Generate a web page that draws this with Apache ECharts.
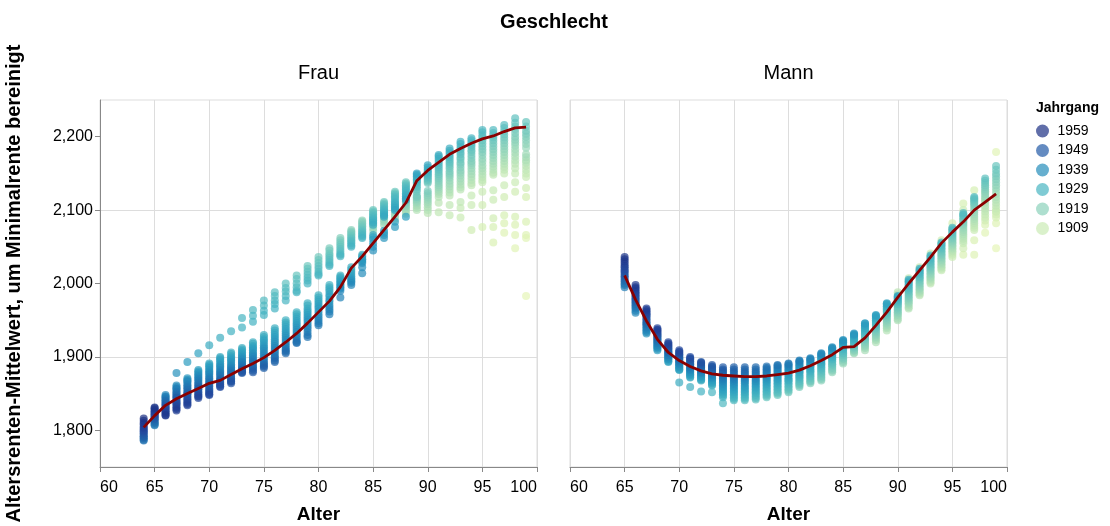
<!DOCTYPE html>
<html>
<head>
<meta charset="utf-8">
<script src="https://cdn.jsdelivr.net/npm/echarts@6/dist/echarts.min.js"></script>
<style>
  html, body { margin: 0; padding: 0; background: #fff; }
  #chart { width: 1110px; height: 526px; }
</style>
</head>
<body>
<div id="chart"></div>
<script>
// Farbskala der Jahrgänge 1900 - 1959; letzte Beobachtung 2023:
// die Spalte für Alter a endet beim Jahrgang 2023 - a (höchstens 1959)
const farbeVon = 1900
const farbeBis = 1959
const letztesJahr = 2023

// Werte je Alter, vom ältesten zum jüngsten Jahrgang
const alterFrau = [64, 65, 66, 67, 68, 69, 70, 71, 72, 73, 74, 75, 76, 77, 78, 79, 80, 81,
  82, 83, 84, 85, 86, 87, 88, 89, 90, 91, 92, 93, 94, 95, 96, 97, 98, 99]
const frauWerte = [
  [1786, 1787, 1789, 1791, 1792, 1794, 1796, 1798, 1799, 1801, 1803, 1805, 1808, 1810, 1813, 1816],
  [1807, 1808, 1810, 1811, 1813, 1815, 1816, 1817, 1819, 1820, 1822, 1823, 1825, 1826, 1828, 1830, 1831],
  [1848, 1846, 1845, 1843, 1841, 1840, 1838, 1836, 1835, 1833, 1831, 1830, 1828, 1826, 1825, 1823, 1821, 1820],
  [1878, 1861, 1859, 1857, 1856, 1853, 1851, 1849, 1847, 1845, 1844, 1841, 1839, 1837, 1836, 1833, 1831, 1829, 1827],
  [1893, 1871, 1869, 1867, 1866, 1863, 1861, 1859, 1857, 1855, 1852, 1850, 1849, 1846, 1844, 1842, 1840, 1838, 1836, 1834],
  [1905, 1882, 1880, 1878, 1876, 1874, 1872, 1870, 1868, 1865, 1863, 1861, 1859, 1857, 1856, 1853, 1851, 1849, 1847, 1846, 1844],
  [1916, 1891, 1889, 1887, 1885, 1882, 1880, 1878, 1876, 1873, 1871, 1869, 1866, 1864, 1862, 1860, 1857, 1855, 1853, 1851, 1849, 1848],
  [1926, 1900, 1898, 1896, 1894, 1891, 1889, 1887, 1885, 1882, 1880, 1878, 1876, 1874, 1871, 1869, 1867, 1865, 1863, 1862, 1860, 1859],
  [1935, 1906, 1904, 1901, 1899, 1897, 1895, 1893, 1890, 1888, 1886, 1884, 1882, 1880, 1878, 1876, 1873, 1871, 1869, 1867, 1866, 1864],
  [1953, 1940, 1912, 1910, 1908, 1906, 1904, 1902, 1900, 1898, 1896, 1894, 1893, 1891, 1889, 1887, 1885, 1883, 1882, 1880, 1879, 1878],
  [1964, 1956, 1948, 1920, 1918, 1915, 1913, 1911, 1909, 1906, 1904, 1902, 1900, 1897, 1895, 1893, 1891, 1888, 1886, 1884, 1881, 1879],
  [1977, 1970, 1963, 1957, 1930, 1927, 1924, 1922, 1919, 1916, 1913, 1911, 1908, 1905, 1902, 1899, 1896, 1893, 1891, 1889, 1887, 1885],
  [1988, 1983, 1977, 1972, 1966, 1939, 1936, 1933, 1930, 1927, 1924, 1921, 1918, 1915, 1912, 1909, 1906, 1903, 1900, 1898, 1895, 1893],
  [2000, 1994, 1989, 1983, 1977, 1950, 1947, 1944, 1941, 1938, 1935, 1932, 1929, 1926, 1923, 1920, 1917, 1914, 1911, 1909, 1907, 1905],
  [2011, 2006, 2000, 1995, 1990, 1988, 1961, 1958, 1955, 1952, 1949, 1946, 1943, 1940, 1937, 1934, 1931, 1928, 1925, 1922, 1920, 1919],
  [2024, 2020, 2016, 2012, 2008, 2004, 2000, 1973, 1970, 1966, 1963, 1960, 1957, 1954, 1951, 1948, 1944, 1941, 1938, 1934, 1930, 1927],
  [2036, 2032, 2028, 2024, 2020, 2016, 2013, 2011, 1984, 1981, 1978, 1975, 1972, 1969, 1966, 1962, 1958, 1955, 1952, 1949, 1946, 1943],
  [2048, 2045, 2041, 2038, 2035, 2032, 2029, 2026, 2024, 1998, 1995, 1992, 1989, 1985, 1982, 1978, 1975, 1971, 1968, 1965, 1962, 1958],
  [2062, 2059, 2056, 2053, 2050, 2047, 2044, 2041, 2039, 2037, 2011, 2009, 2007, 2005, 2003, 2001, 1999, 1997, 1995, 1993, 1990, 1981],
  [2073, 2071, 2069, 2067, 2065, 2063, 2061, 2059, 2057, 2055, 2052, 2050, 2022, 2019, 2016, 2013, 2010, 2007, 2005, 2003, 2001, 1998],
  [2086, 2084, 2082, 2080, 2078, 2076, 2074, 2072, 2070, 2068, 2066, 2064, 2062, 2039, 2037, 2035, 2033, 2032, 2030, 2028, 2022, 2014],
  [2072, 2076, 2079, 2082, 2085, 2088, 2100, 2098, 2096, 2094, 2092, 2090, 2088, 2086, 2083, 2080, 2066, 2063, 2060, 2055, 2050, 2045],
  [2080, 2084, 2087, 2090, 2093, 2096, 2098, 2111, 2109, 2107, 2105, 2103, 2101, 2099, 2097, 2095, 2093, 2091, 2072, 2069, 2066, 2062],
  [2088, 2091, 2094, 2097, 2100, 2102, 2104, 2106, 2125, 2123, 2121, 2119, 2117, 2115, 2112, 2110, 2108, 2105, 2103, 2100, 2084, 2077],
  [2095, 2098, 2101, 2104, 2106, 2108, 2110, 2112, 2114, 2138, 2136, 2134, 2132, 2130, 2128, 2126, 2123, 2121, 2119, 2116, 2114, 2091],
  [2100, 2103, 2106, 2109, 2111, 2113, 2115, 2117, 2118, 2120, 2125, 2128, 2131, 2133, 2136, 2138, 2140, 2142, 2144, 2146, 2148, 2150],
  [2096, 2100, 2104, 2108, 2111, 2114, 2117, 2120, 2123, 2126, 2137, 2139, 2141, 2143, 2145, 2147, 2149, 2151, 2153, 2155, 2158, 2161],
  [2097, 2110, 2118, 2122, 2125, 2128, 2131, 2134, 2137, 2140, 2143, 2146, 2149, 2152, 2155, 2158, 2161, 2164, 2167, 2170, 2173, 2175],
  [2093, 2107, 2120, 2124, 2128, 2132, 2136, 2140, 2144, 2147, 2150, 2153, 2157, 2160, 2163, 2166, 2169, 2172, 2175, 2178, 2181, 2184],
  [2090, 2103, 2111, 2128, 2131, 2135, 2139, 2143, 2147, 2151, 2154, 2158, 2162, 2165, 2169, 2172, 2176, 2179, 2183, 2186, 2190, 2193],
  [2073, 2107, 2120, 2134, 2137, 2141, 2145, 2149, 2153, 2157, 2161, 2164, 2167, 2171, 2175, 2179, 2182, 2186, 2189, 2192, 2195, 2198],
  [2077, 2107, 2125, 2138, 2141, 2145, 2149, 2153, 2157, 2161, 2166, 2170, 2175, 2179, 2183, 2187, 2191, 2195, 2199, 2202, 2206, 2209],
  [2056, 2077, 2089, 2114, 2127, 2148, 2151, 2155, 2159, 2163, 2167, 2171, 2175, 2179, 2183, 2187, 2191, 2195, 2199, 2202, 2205, 2209],
  [2069, 2082, 2093, 2118, 2134, 2150, 2155, 2159, 2163, 2167, 2171, 2175, 2179, 2183, 2187, 2191, 2195, 2199, 2203, 2207, 2212, 2216],
  [2048, 2066, 2080, 2091, 2125, 2138, 2150, 2157, 2163, 2168, 2173, 2178, 2183, 2188, 2192, 2196, 2200, 2205, 2210, 2214, 2219, 2225],
  [1983, 2062, 2066, 2084, 2118, 2130, 2145, 2150, 2155, 2160, 2165, 2168, 2172, 2176, 2185, 2190, 2195, 2200, 2204, 2208, 2214, 2220]
]
const frauMittel = [1804, 1820, 1834, 1843, 1850, 1857, 1864, 1868, 1876, 1884, 1891, 1899, 1909, 1920, 1932, 1946,
  1961, 1976, 1995, 2021, 2037, 2055, 2073, 2091, 2110, 2140, 2154, 2165, 2176, 2184, 2191, 2197, 2201, 2207, 2212, 2213]

const alterMann = [65, 66, 67, 68, 69, 70, 71, 72, 73, 74, 75, 76, 77, 78, 79, 80, 81,
  82, 83, 84, 85, 86, 87, 88, 89, 90, 91, 92, 93, 94, 95, 96, 97, 98, 99]
const mannWerte = [
  [1995, 1998, 2000, 2003, 2005, 2008, 2010, 2012, 2015, 2017, 2019, 2022, 2024, 2027, 2030, 2033, 2036],
  [1960, 1963, 1966, 1968, 1970, 1972, 1974, 1976, 1978, 1980, 1982, 1984, 1986, 1988, 1990, 1993, 1995, 1998],
  [1932, 1934, 1936, 1938, 1940, 1942, 1944, 1945, 1947, 1949, 1951, 1953, 1955, 1957, 1958, 1960, 1962, 1964, 1966],
  [1909, 1911, 1913, 1914, 1916, 1918, 1919, 1921, 1922, 1924, 1925, 1927, 1928, 1930, 1931, 1933, 1934, 1936, 1937, 1939],
  [1893, 1894, 1896, 1897, 1898, 1900, 1901, 1902, 1903, 1905, 1906, 1907, 1908, 1910, 1911, 1912, 1914, 1915, 1917, 1918, 1920],
  [1865, 1882, 1883, 1884, 1886, 1887, 1888, 1890, 1891, 1892, 1894, 1895, 1896, 1898, 1899, 1900, 1902, 1903, 1904, 1906, 1907, 1909],
  [1859, 1872, 1873, 1875, 1876, 1877, 1879, 1880, 1882, 1883, 1884, 1886, 1887, 1889, 1890, 1891, 1893, 1894, 1896, 1897, 1898, 1900],
  [1853, 1868, 1869, 1870, 1872, 1873, 1874, 1875, 1877, 1878, 1879, 1880, 1882, 1883, 1884, 1886, 1887, 1888, 1889, 1891, 1892, 1893],
  [1852, 1861, 1862, 1864, 1865, 1866, 1868, 1869, 1871, 1872, 1873, 1875, 1876, 1877, 1879, 1880, 1882, 1883, 1884, 1886, 1887, 1889],
  [1837, 1845, 1847, 1849, 1851, 1853, 1855, 1857, 1859, 1861, 1863, 1865, 1867, 1869, 1871, 1873, 1875, 1877, 1879, 1881, 1883, 1886],
  [1841, 1843, 1845, 1847, 1849, 1851, 1853, 1855, 1857, 1859, 1861, 1863, 1865, 1867, 1869, 1871, 1873, 1875, 1878, 1880, 1883, 1886],
  [1841, 1843, 1845, 1847, 1849, 1851, 1853, 1855, 1857, 1859, 1861, 1864, 1866, 1868, 1870, 1872, 1874, 1876, 1878, 1880, 1883, 1886],
  [1842, 1844, 1846, 1848, 1850, 1852, 1854, 1856, 1858, 1860, 1862, 1864, 1866, 1868, 1870, 1872, 1874, 1876, 1878, 1880, 1883, 1886],
  [1845, 1847, 1849, 1851, 1853, 1855, 1857, 1859, 1861, 1863, 1865, 1867, 1869, 1871, 1873, 1875, 1877, 1879, 1881, 1883, 1885, 1887],
  [1848, 1850, 1852, 1854, 1856, 1858, 1860, 1862, 1864, 1866, 1868, 1870, 1872, 1874, 1876, 1878, 1880, 1882, 1884, 1886, 1888, 1889],
  [1852, 1854, 1856, 1858, 1860, 1862, 1864, 1866, 1868, 1869, 1871, 1873, 1875, 1877, 1879, 1881, 1883, 1885, 1887, 1888, 1890, 1891],
  [1859, 1861, 1863, 1864, 1866, 1868, 1870, 1872, 1873, 1875, 1877, 1879, 1880, 1882, 1884, 1886, 1888, 1889, 1891, 1893, 1894, 1895],
  [1864, 1866, 1867, 1869, 1871, 1873, 1874, 1876, 1878, 1880, 1881, 1883, 1885, 1887, 1888, 1890, 1892, 1893, 1895, 1896, 1897, 1898],
  [1868, 1870, 1872, 1874, 1876, 1878, 1880, 1882, 1884, 1886, 1888, 1890, 1891, 1893, 1895, 1896, 1898, 1900, 1901, 1903, 1904, 1905],
  [1879, 1881, 1883, 1885, 1887, 1889, 1890, 1892, 1894, 1896, 1897, 1899, 1900, 1902, 1904, 1905, 1907, 1908, 1910, 1911, 1912, 1913],
  [1891, 1893, 1895, 1897, 1898, 1900, 1902, 1903, 1905, 1906, 1908, 1910, 1911, 1913, 1914, 1916, 1917, 1919, 1920, 1921, 1922, 1923],
  [1905, 1906, 1908, 1909, 1910, 1912, 1913, 1914, 1916, 1917, 1918, 1920, 1921, 1922, 1924, 1925, 1926, 1928, 1929, 1930, 1931, 1932],
  [1909, 1912, 1914, 1916, 1918, 1920, 1922, 1924, 1925, 1927, 1929, 1931, 1932, 1934, 1936, 1937, 1939, 1940, 1942, 1943, 1945, 1946],
  [1920, 1923, 1925, 1927, 1929, 1931, 1933, 1935, 1937, 1939, 1940, 1942, 1944, 1945, 1947, 1949, 1950, 1952, 1953, 1955, 1956, 1957],
  [1936, 1939, 1941, 1943, 1945, 1947, 1949, 1951, 1953, 1955, 1957, 1958, 1960, 1962, 1963, 1965, 1966, 1968, 1969, 1971, 1972, 1973],
  [1988, 1985, 1950, 1952, 1955, 1957, 1959, 1961, 1963, 1965, 1967, 1969, 1971, 1972, 1974, 1975, 1977, 1978, 1980, 1981, 1982, 1983],
  [2007, 2003, 1966, 1968, 1971, 1973, 1975, 1977, 1979, 1981, 1983, 1985, 1987, 1989, 1991, 1993, 1995, 1997, 1999, 2001, 2003, 2005],
  [2022, 2018, 1984, 1986, 1988, 1990, 1992, 1994, 1996, 1998, 2000, 2002, 2004, 2006, 2008, 2009, 2011, 2013, 2014, 2016, 2018, 2020],
  [2041, 2037, 2000, 2002, 2004, 2006, 2008, 2010, 2012, 2014, 2016, 2018, 2020, 2022, 2024, 2026, 2028, 2030, 2032, 2034, 2036, 2038],
  [2059, 2054, 2018, 2020, 2022, 2024, 2026, 2028, 2030, 2032, 2034, 2036, 2038, 2040, 2042, 2044, 2046, 2048, 2050, 2052, 2054, 2056],
  [2082, 2075, 2036, 2039, 2042, 2044, 2046, 2048, 2050, 2052, 2054, 2056, 2058, 2060, 2062, 2064, 2066, 2068, 2070, 2072, 2074, 2076],
  [2039, 2109, 2048, 2100, 2055, 2058, 2061, 2064, 2067, 2070, 2073, 2076, 2079, 2081, 2083, 2085, 2087, 2089, 2091, 2093, 2094, 2096],
  [2039, 2059, 2127, 2114, 2073, 2076, 2079, 2082, 2085, 2088, 2091, 2094, 2097, 2100, 2103, 2106, 2108, 2110, 2112, 2114, 2116, 2118],
  [2069, 2125, 2080, 2114, 2086, 2090, 2094, 2098, 2102, 2106, 2110, 2113, 2116, 2119, 2122, 2125, 2128, 2131, 2134, 2137, 2140, 2143],
  [2048, 2179, 2082, 2098, 2090, 2094, 2098, 2102, 2106, 2110, 2114, 2118, 2122, 2126, 2130, 2134, 2138, 2142, 2146, 2150, 2155, 2160]
]
const mannMittel = [2011, 1978, 1949, 1924, 1906, 1895, 1887, 1881, 1877, 1875, 1874, 1873, 1873, 1874, 1876, 1878, 1882,
  1888, 1895, 1903, 1913, 1914, 1926, 1943, 1961, 1981, 2000, 2018, 2036, 2055, 2070, 2084, 2100, 2111, 2122]

const legendeJahrgaenge = ['1959', '1949', '1939', '1929', '1919', '1909']
const yTicks = [1800, 1900, 2000, 2100, 2200]

// vega "yellowgreenblue"
const farbSchema = ['#eff9bd', '#dbf1b4', '#bde5b5', '#94d5b9', '#69c5be', '#45b4c2',
  '#2c9ec0', '#2182b8', '#2163aa', '#23479c', '#1c3185']

const schrift = 'Liberation Sans, Arial, Helvetica, sans-serif'

function farbe(jahrgang) {
  const t = (jahrgang - farbeVon) / (farbeBis - farbeVon)
  return echarts.color.lerp(Math.max(0, Math.min(1, t)), farbSchema)
}

function punkte(alter, werte) {
  const out = []
  alter.forEach((a, i) => {
    const juengster = Math.min(farbeBis, letztesJahr - a)
    const start = juengster - werte[i].length + 1
    werte[i].forEach((v, k) => {
      out.push([a, v, start + k])
    })
  })
  return out
}

function xAchse(idx) {
  return {
    type: 'value',
    gridIndex: idx,
    min: 60,
    max: 100,
    interval: 5,
    name: 'Alter',
    nameLocation: 'middle',
    nameGap: 38,
    nameTextStyle: { fontWeight: 'bold', fontSize: 19, color: '#000', fontFamily: schrift },
    axisLine: { show: true, onZero: false, lineStyle: { color: '#888', width: 1 } },
    axisTick: { show: true, length: 5, lineStyle: { color: '#888' } },
    axisLabel: {
      color: '#000',
      fontSize: 16,
      margin: 13,
      fontFamily: schrift,
      alignMinLabel: 'left',
      alignMaxLabel: 'right'
    },
    splitLine: { show: true, lineStyle: { color: '#ddd', width: 1 } }
  }
}

function yAchse(idx, links) {
  return {
    type: 'value',
    gridIndex: idx,
    min: 1750,
    max: 2250,
    interval: 50,
    name: links ? 'Altersrenten-Mittelwert, um Minimalrente bereinigt' : '',
    nameLocation: 'middle',
    nameGap: 76,
    nameTextStyle: { fontWeight: 'bold', fontSize: 20, color: '#000', fontFamily: schrift },
    axisLine: { show: links, lineStyle: { color: '#888', width: 1 } },
    axisTick: { show: links, length: 5, customValues: yTicks, lineStyle: { color: '#888' } },
    axisLabel: {
      show: links,
      customValues: yTicks,
      color: '#000',
      fontSize: 16,
      margin: 7,
      fontFamily: schrift,
      formatter: (v) => (v % 100 === 0 ? v.toLocaleString('en-US') : '')
    },
    splitLine: { show: true, lineStyle: { color: ['rgba(0,0,0,0)', '#ddd'], width: 1 } }
  }
}

const chart = echarts.init(document.getElementById('chart'))

const option = {
  animation: false,
  textStyle: { fontFamily: schrift },
  grid: [
    { left: 100, top: 100, width: 437, height: 367, show: true, borderColor: '#ddd', borderWidth: 1, outerBoundsMode: 'none' },
    { left: 570, top: 100, width: 437, height: 367, show: true, borderColor: '#ddd', borderWidth: 1, outerBoundsMode: 'none' }
  ],
  xAxis: [xAchse(0), xAchse(1)],
  yAxis: [yAchse(0, true), yAchse(1, false)],
  legend: {
    orient: 'vertical',
    left: 1031,
    top: 119,
    itemWidth: 14,
    itemHeight: 13,
    itemGap: 5.5,
    selectedMode: false,
    textStyle: { fontSize: 14, color: '#000', fontFamily: schrift, padding: [0, 0, 0, 3] },
    data: legendeJahrgaenge.map((j) => ({ name: j, icon: 'circle' }))
  },
  graphic: [
    {
      type: 'text', x: 554, y: 22,
      style: { text: 'Geschlecht', font: 'bold 20px ' + schrift, fill: '#000', align: 'center', verticalAlign: 'middle' }
    },
    {
      type: 'text', x: 318.5, y: 73,
      style: { text: 'Frau', font: '20px ' + schrift, fill: '#000', align: 'center', verticalAlign: 'middle' }
    },
    {
      type: 'text', x: 788.5, y: 73,
      style: { text: 'Mann', font: '20px ' + schrift, fill: '#000', align: 'center', verticalAlign: 'middle' }
    },
    {
      type: 'text', x: 1036, y: 108,
      style: { text: 'Jahrgang', font: 'bold 14px ' + schrift, fill: '#000', align: 'left', verticalAlign: 'middle' }
    }
  ],
  series: [
    {
      type: 'scatter',
      xAxisIndex: 0,
      yAxisIndex: 0,
      symbolSize: 8,
      data: punkte(alterFrau, frauWerte),
      itemStyle: { color: (p) => farbe(p.value[2]), opacity: 0.7 },
      emphasis: { disabled: true }
    },
    {
      type: 'scatter',
      xAxisIndex: 1,
      yAxisIndex: 1,
      symbolSize: 8,
      data: punkte(alterMann, mannWerte),
      itemStyle: { color: (p) => farbe(p.value[2]), opacity: 0.7 },
      emphasis: { disabled: true }
    },
    {
      type: 'line',
      xAxisIndex: 0,
      yAxisIndex: 0,
      symbol: 'none',
      z: 5,
      data: alterFrau.map((a, i) => [a, frauMittel[i]]),
      lineStyle: { color: '#8b0000', width: 2.8 }
    },
    {
      type: 'line',
      xAxisIndex: 1,
      yAxisIndex: 1,
      symbol: 'none',
      z: 5,
      data: alterMann.map((a, i) => [a, mannMittel[i]]),
      lineStyle: { color: '#8b0000', width: 2.8 }
    }
  ].concat(
    // nur für die Legende
    legendeJahrgaenge.map((j) => ({
      name: j,
      type: 'scatter',
      data: [],
      itemStyle: { color: farbe(Number(j)), opacity: 0.7 }
    }))
  )
}

chart.setOption(option)
</script>
</body>
</html>
